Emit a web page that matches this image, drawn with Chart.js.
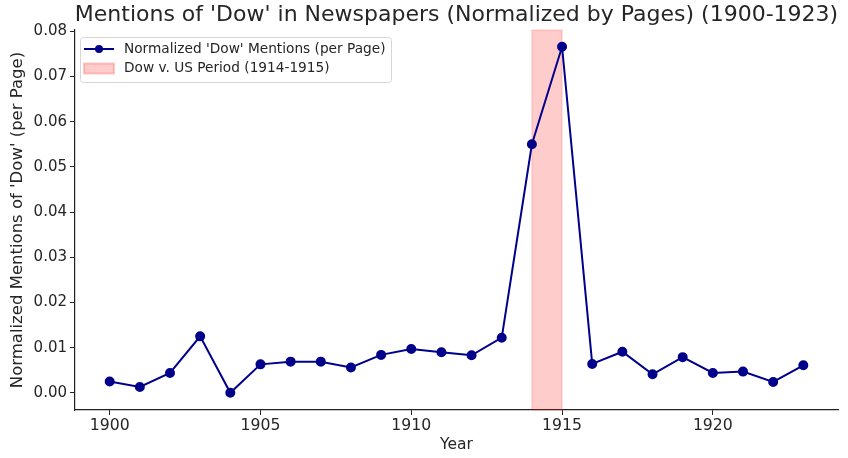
<!DOCTYPE html>
<html>
<head>
<meta charset="utf-8">
<script src="https://cdn.jsdelivr.net/npm/chart.js@4"></script>
<style>
  html, body { margin: 0; padding: 0; background: #fff; }
  #wrap { width: 848px; height: 458px; }
</style>
</head>
<body>
<div id="wrap"><canvas id="dowChart"></canvas></div>
<script>
// data
const years = [1900, 1901, 1902, 1903, 1904, 1905, 1906, 1907, 1908, 1909, 1910, 1911,
  1912, 1913, 1914, 1915, 1916, 1917, 1918, 1919, 1920, 1921, 1922, 1923];
const mentions = [0.0025, 0.0013, 0.0044, 0.0125, 0.0000, 0.0063, 0.0069, 0.0069, 0.0056, 0.0084, 0.0097, 0.0090,
  0.0083, 0.0122, 0.0550, 0.0766, 0.0064, 0.0091, 0.0041, 0.0079, 0.0044, 0.0047, 0.0024, 0.0061];
const casePeriod = [1914, 1915];
const xTicks = [1900, 1905, 1910, 1915, 1920];
const yTicks = [0.00, 0.01, 0.02, 0.03, 0.04, 0.05, 0.06, 0.07, 0.08];

const FONT = "'DejaVu Sans', sans-serif";
const TEXT = '#262626';
const LINE_COLOR = '#00008B';
const SPAN_FILL = 'rgba(255, 0, 0, 0.2)';
const TITLE = "Mentions of 'Dow' in Newspapers (Normalized by Pages) (1900-1923)";

// shaded period behind the line
const spanPlugin = {
  id: 'span',
  beforeDatasetsDraw(chart) {
    const { ctx, chartArea, scales } = chart;
    const x0 = scales.x.getPixelForValue(casePeriod[0]);
    const x1 = scales.x.getPixelForValue(casePeriod[1]);
    ctx.save();
    ctx.fillStyle = SPAN_FILL;
    ctx.strokeStyle = SPAN_FILL;
    ctx.fillRect(x0, chartArea.top, x1 - x0, chartArea.bottom - chartArea.top);
    ctx.strokeRect(x0, chartArea.top, x1 - x0, chartArea.bottom - chartArea.top);
    ctx.restore();
  }
};

// title centred over the axes, and a boxed legend in the upper left
const decorPlugin = {
  id: 'decor',
  afterDraw(chart) {
    const { ctx, chartArea } = chart;
    ctx.save();
    ctx.fillStyle = TEXT;
    ctx.font = '22px ' + FONT;
    ctx.textAlign = 'center';
    ctx.textBaseline = 'alphabetic';
    ctx.fillText(TITLE, (chartArea.left + chartArea.right) / 2, 21);

    const left = chartArea.left + 5, top = chartArea.top + 7;
    const w = 311, h = 45;
    ctx.fillStyle = 'rgba(255,255,255,0.8)';
    ctx.strokeStyle = '#d6d6d6';
    ctx.lineWidth = 1;
    ctx.beginPath();
    ctx.roundRect(left + 0.5, top + 0.5, w, h, 3);
    ctx.fill();
    ctx.stroke();

    const row1 = top + 12, row2 = top + 31.5;
    ctx.strokeStyle = LINE_COLOR;
    ctx.lineWidth = 2;
    ctx.beginPath();
    ctx.moveTo(left + 4, row1);
    ctx.lineTo(left + 34, row1);
    ctx.stroke();
    ctx.fillStyle = LINE_COLOR;
    ctx.beginPath();
    ctx.arc(left + 19, row1, 4, 0, Math.PI * 2);
    ctx.fill();

    ctx.fillStyle = SPAN_FILL;
    ctx.strokeStyle = SPAN_FILL;
    ctx.fillRect(left + 4, row2 - 5, 30, 10);
    ctx.strokeRect(left + 4, row2 - 5, 30, 10);

    ctx.fillStyle = TEXT;
    ctx.font = '13.7px ' + FONT;
    ctx.textAlign = 'left';
    ctx.textBaseline = 'middle';
    ctx.fillText("Normalized 'Dow' Mentions (per Page)", left + 44, row1);
    ctx.fillText('Dow v. US Period (1914-1915)', left + 44, row2);
    ctx.restore();
  }
};

const ctx = document.getElementById('dowChart').getContext('2d');
const dowChart = new Chart(ctx, {
  type: 'line',
  data: {
    datasets: [
      {
        label: "Normalized 'Dow' Mentions (per Page)",
        data: years.map((y, i) => ({ x: y, y: mentions[i] })),
        borderColor: LINE_COLOR,
        backgroundColor: LINE_COLOR,
        borderWidth: 2,
        pointRadius: 4,
        pointHoverRadius: 4,
        tension: 0,
      },
    ],
  },
  options: {
    responsive: true,
    maintainAspectRatio: false,
    animation: false,
    layout: { padding: { left: 8, right: 10, top: 30, bottom: 4 } },
    plugins: {
      legend: { display: false },
      tooltip: { enabled: false },
      title: { display: false },
    },
    scales: {
      x: {
        type: 'linear',
        min: 1898.85,
        max: 1924.15,
        afterBuildTicks: (axis) => { axis.ticks = xTicks.map(v => ({ value: v })); },
        afterFit: (axis) => { axis.height = 44; },
        ticks: {
          callback: (v) => String(v),
          color: TEXT,
          font: { family: FONT, size: 15.7 },
          padding: 2,
          maxRotation: 0,
        },
        grid: { drawOnChartArea: false, color: '#222', tickLength: 5, lineWidth: 1 },
        border: { color: '#222', width: 1.2 },
        title: {
          display: true,
          text: 'Year',
          color: TEXT,
          font: { family: FONT, size: 15.5 },
          padding: { top: 0, bottom: 0 },
        },
      },
      y: {
        min: -0.0038,
        max: 0.0803,
        afterBuildTicks: (axis) => { axis.ticks = yTicks.map(v => ({ value: v })); },
        afterFit: (axis) => { axis.width = 67; },
        ticks: {
          callback: (v) => v.toFixed(2),
          color: TEXT,
          font: { family: FONT, size: 15 },
          padding: 3,
        },
        grid: { drawOnChartArea: false, color: '#222', tickLength: 5, lineWidth: 1 },
        border: { color: '#222', width: 1.2 },
        title: {
          display: true,
          text: "Normalized Mentions of 'Dow' (per Page)",
          color: TEXT,
          font: { family: FONT, size: 16.5 },
          padding: { top: 0, bottom: 2 },
        },
      },
    },
  },
  plugins: [spanPlugin, decorPlugin],
});
</script>
</body>
</html>
